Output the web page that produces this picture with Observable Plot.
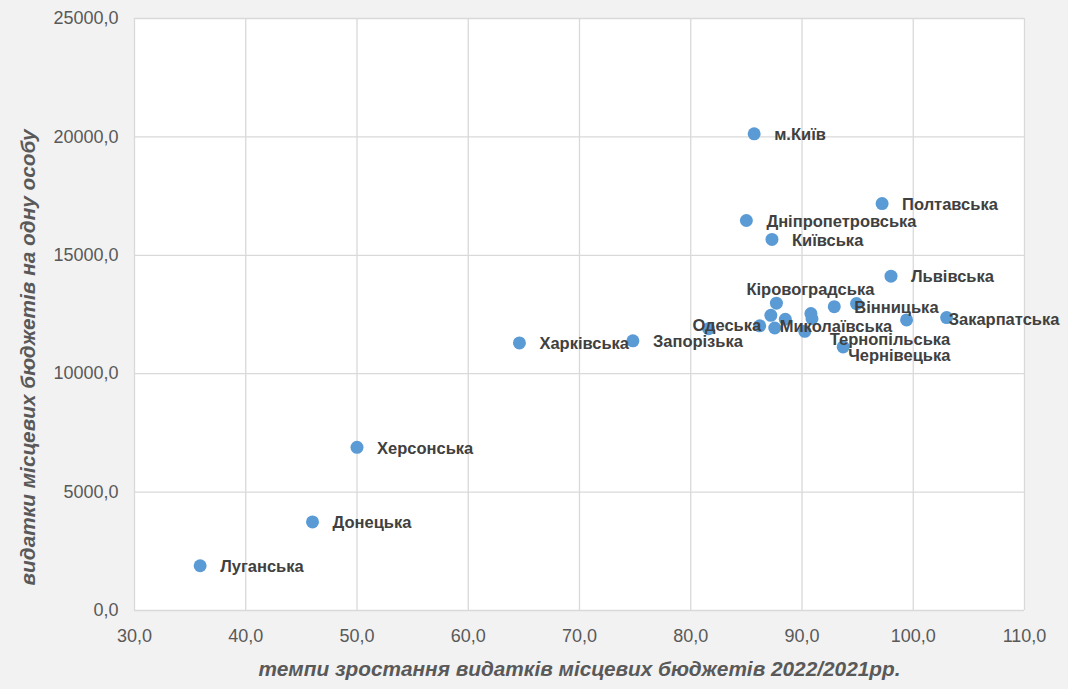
<!DOCTYPE html>
<html>
<head>
<meta charset="utf-8">
<script src="https://cdn.jsdelivr.net/npm/d3@7"></script>
<script src="https://cdn.jsdelivr.net/npm/@observablehq/plot@0.6"></script>
<style>
  html, body { margin: 0; padding: 0; background: #f2f2f2; }
  #chart { width: 1068px; height: 689px; }
</style>
</head>
<body>
<div id="chart"></div>
<script>
// Regions (oblasts) of Ukraine
const regions = [
  "Луганська", "Донецька", "Херсонська", "Харківська", "Запорізька",
  "м.Київ", "Полтавська", "Дніпропетровська", "Київська", "Львівська",
  "Вінницька", "Миколаївська", "Кіровоградська", "Одеська", "Тернопільська",
  "Чернівецька", "Закарпатська", "Житомирська", "Сумська", "Черкаська",
  "Хмельницька", "Рівненська", "Волинська", "Чернігівська"
];
// темпи зростання видатків місцевих бюджетів 2022/2021, %
const growth = [
  35.9, 46.0, 50.0, 64.6, 74.8,
  85.7, 97.2, 85.0, 87.3, 98.0,
  92.9, 86.2, 87.7, 81.6, 90.25,
  93.7, 103.0, 87.2, 88.5, 90.8,
  90.9, 94.9, 99.4, 87.55
];
// видатки місцевих бюджетів на одну особу, грн
const spending = [
  1890, 3740, 6890, 11300, 11390,
  20130, 17185, 16470, 15670, 14120,
  12830, 12020, 12980, 11900, 11790,
  11130, 12370, 12465, 12300, 12540,
  12320, 12960, 12270, 11930
];
// Which points carry a visible data label
const labelled = [
  "Луганська", "Донецька", "Херсонська", "Харківська", "Запорізька",
  "м.Київ", "Полтавська", "Дніпропетровська", "Київська", "Львівська",
  "Вінницька", "Миколаївська", "Кіровоградська", "Одеська", "Тернопільська",
  "Чернівецька", "Закарпатська"
];
const xTicks = [30, 40, 50, 60, 70, 80, 90, 100, 110];
const yTicks = [0, 5000, 10000, 15000, 20000, 25000];
const xTitle = "темпи зростання видатків місцевих бюджетів 2022/2021рр.";
const yTitle = "видатки місцевих бюджетів на одну особу";

// label placement (pixel offsets of manually moved labels)
const movedLabels = {
  "Кіровоградська": [-30, -13],
  "Одеська": [-16, -3],
  "Тернопільська": [25, 8],
  "Чернівецька": [5, 9],
  "Закарпатська": [2, 2]
};

const data = regions.map((name, i) => ({ name, x: growth[i], y: spending[i] }));
const fmt = d => d.toFixed(1).replace(".", ",");

const labelStyle = {
  x: "x", y: "y", text: "name", textAnchor: "start",
  fontWeight: "bold", fontSize: 16.5, fill: "#404040"
};

const defaultLabelled = data.filter(d => labelled.includes(d.name) && !(d.name in movedLabels));
const movedMarks = Object.entries(movedLabels).map(([name, [dx, dy]]) =>
  Plot.text(data.filter(d => d.name === name), { ...labelStyle, dx, dy })
);

const chart = Plot.plot({
  width: 1068,
  height: 689,
  marginLeft: 134,
  marginRight: 44,
  marginTop: 18,
  marginBottom: 79,
  style: { background: "#f2f2f2", fontFamily: "'Liberation Sans', Arial, sans-serif", overflow: "visible" },
  x: { domain: [30, 110], label: null },
  y: { domain: [0, 25000], label: null },
  marks: [
    Plot.frame({ fill: "white", stroke: null }),
    Plot.gridX(xTicks, { stroke: "#d9d9d9", strokeOpacity: 1, strokeWidth: 1.3 }),
    Plot.gridY(yTicks, { stroke: "#d9d9d9", strokeOpacity: 1, strokeWidth: 1.3 }),
    Plot.axisX(xTicks, { tickSize: 0, tickPadding: 19, tickFormat: fmt, fontSize: 18, fill: "#595959", label: null }),
    Plot.axisY(yTicks, { tickSize: 0, tickPadding: 16, tickFormat: fmt, fontSize: 18, fill: "#595959", label: null }),
    Plot.dot(data, { x: "x", y: "y", r: 6.5, fill: "#5b9bd5", stroke: "none" }),
    Plot.text(defaultLabelled, { ...labelStyle, dx: 20, dy: 1 }),
    ...movedMarks,
    Plot.text([xTitle], { frameAnchor: "bottom", textAnchor: "middle", dy: 65, fontSize: 20.8, fontWeight: "bold", fontStyle: "italic", fill: "#595959" }),
    Plot.text([yTitle], { frameAnchor: "left", textAnchor: "middle", dx: -106, dy: 43, rotate: -90, fontSize: 20.8, fontWeight: "bold", fontStyle: "italic", fill: "#595959" })
  ]
});
document.getElementById("chart").appendChild(chart);
</script>
</body>
</html>
